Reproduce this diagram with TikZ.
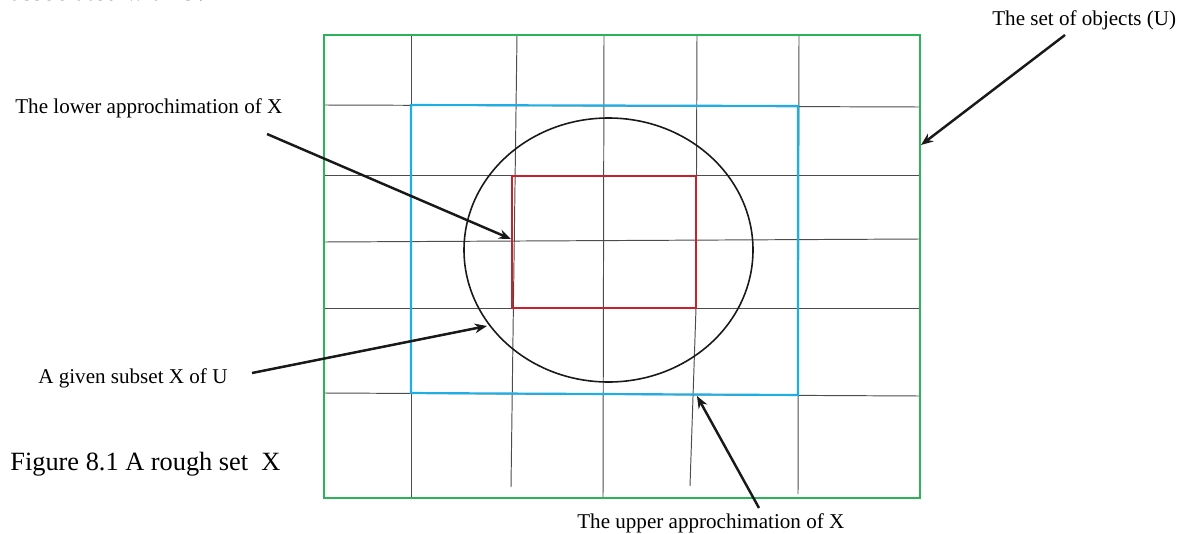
\documentclass[tikz,border=0pt]{standalone}
\usepackage{fontspec}
\setmainfont{Liberation Serif}
\usetikzlibrary{arrows.meta}
\definecolor{setgreen}{RGB}{44,178,88}
\definecolor{upblue}{RGB}{30,174,228}
\definecolor{lowred}{RGB}{200,32,44}

\begin{document}
\begin{tikzpicture}[x=0.02cm, y=-0.02cm, every node/.style={inner sep=0pt, anchor=base west, font=\fontsize{12}{14}\selectfont},
  >={Stealth[length=7pt, width=5.5pt]}, cell/.style={black!70, line width=0.55pt}, pointer/.style={->, line width=1.4pt, black!90}]
\useasboundingbox (0,0) rectangle (1184,534);
\node[font=\fontsize{15}{18}\selectfont] (cut) at (10,1) {associated with U.};

\draw[cell] (411,35) -- (411,498);
\draw[cell] (517,35) -- (511,487);
\draw[cell] (604,35) -- (603,498);
\draw[cell] (697,35) -- (696,308) -- (690,486);
\draw[cell] (799,35) -- (798,494);
\draw[cell] (324,105) -- (920,107);
\draw[cell] (324,175) -- (920,175);
\draw[cell] (324,242) -- (920,239);
\draw[cell] (324,308) -- (920,308);
\draw[cell] (324,393) -- (920,396);

\draw[upblue, line width=1.2pt] (411,105) -- (798,106) -- (798,395) -- (411,393) -- cycle;
\draw[lowred, line width=1.2pt] (512,176) rectangle (696,308);
\draw[black!90, line width=0.9pt] (608.5,250) ellipse [x radius=144.5, y radius=132];
\draw[setgreen, line width=1.2pt] (324,35) rectangle (920,498);

\node (lower) at (15,113) {The lower approchimation of X};
\node (subset) at (38,383) {A given subset X of U};
\node (upper) at (577,528) {The upper approchimation of X};
\node (objects) at (992,26) {The set of objects (U)};
\node[font=\fontsize{15}{18}\selectfont] (caption) at (10,470) {Figure 8.1 A rough set~~X};

\coordinate (lowtail) at (267,134);  \coordinate (lowtip) at (511,239);
\coordinate (subtail) at (252,373);  \coordinate (subtip) at (487,326);
\coordinate (uptail) at (759,508);   \coordinate (uptip) at (697,396);
\coordinate (objtail) at (1065,35);  \coordinate (objtip) at (921,145);
\draw[pointer] (lowtail) -- (lowtip);
\draw[pointer] (subtail) -- (subtip);
\draw[pointer] (uptail) -- (uptip);
\draw[pointer] (objtail) -- (objtip);
\end{tikzpicture}
\end{document}
